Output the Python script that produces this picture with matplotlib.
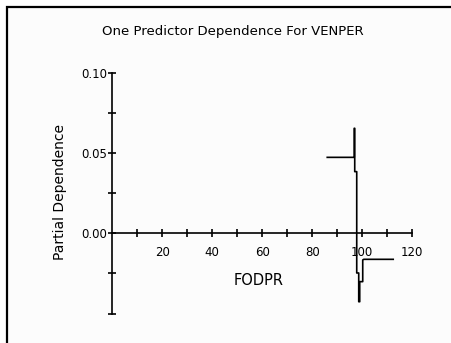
#One predictor dependence plot, VENPER vs FODPR
import matplotlib
matplotlib.use("Agg")
import matplotlib.pyplot as plt
from matplotlib.patches import Rectangle
from matplotlib.ticker import FixedLocator, FuncFormatter

#data-----------------------------------------------
fodpr = [86.0, 96.8, 96.8, 97.0, 97.0, 97.8, 97.8, 98.6, 98.6, 99.0,
         99.0, 100.2, 100.2, 100.6, 112.4]
pdep = [0.0473, 0.0473, 0.0654, 0.0654, 0.0384, 0.0384, -0.0247, -0.0247,
        -0.0426, -0.0426, -0.0301, -0.0301, -0.0166, -0.0162, -0.0162]

xticks = [10, 20, 30, 40, 50, 60, 70, 80, 90, 100, 110, 120]
xlabels = ['', '20', '', '40', '', '60', '', '80', '', '100', '', '120']
yticks = [-0.05, -0.025, 0.0, 0.025, 0.05, 0.075, 0.10]
ylabels = ['', '', '0.00', '', '0.05', '', '0.10']

#plot-----------------------------------------------
fig = plt.figure(figsize=(4.51, 3.43), dpi=100)
fig.patch.set_facecolor('white')
frame = Rectangle((7/451, -0.2), 1.2, 1.2 - 7/343, transform=fig.transFigure,
                  facecolor='#fcfcfc', edgecolor='black', linewidth=1.6, zorder=-5)
fig.add_artist(frame)

ax = fig.add_axes([0.249, 0.0857, 0.665, 0.7023])
ax.set_facecolor('none')
ax.plot(fodpr, pdep, color='black', linewidth=1.2)

ax.set_xlim(0, 120)
ax.set_ylim(-0.05, 0.10)
ax.spines['top'].set_visible(False)
ax.spines['right'].set_visible(False)
ax.spines['bottom'].set_position(('data', 0))
ax.spines['left'].set_position(('data', 0))
for s in ['bottom', 'left']:
    ax.spines[s].set_linewidth(1.2)

ax.xaxis.set_major_locator(FixedLocator(xticks))
ax.xaxis.set_major_formatter(FuncFormatter(lambda v, p: xlabels[xticks.index(round(v))] if round(v) in xticks else ''))
ax.yaxis.set_major_locator(FixedLocator(yticks))
ax.yaxis.set_major_formatter(FuncFormatter(lambda v, p: ylabels[p] if p is not None and p < len(ylabels) else ''))
ax.tick_params(axis='both', direction='inout', length=5.5, width=1.2, labelsize=8.5)
ax.tick_params(axis='x', pad=6.5)
ax.tick_params(axis='y', pad=0.7)

ax.set_xlabel('FODPR', fontsize=10.5)
ax.xaxis.set_label_coords(0.489, 0.1685)
ax.set_ylabel('Partial Dependence', fontsize=10)
ax.yaxis.set_label_coords(-0.152, 0.505)

fig.text(0.517, 0.907, 'One Predictor Dependence For VENPER', ha='center', va='center', fontsize=9.5)

fig.savefig('out.png', dpi=100)
